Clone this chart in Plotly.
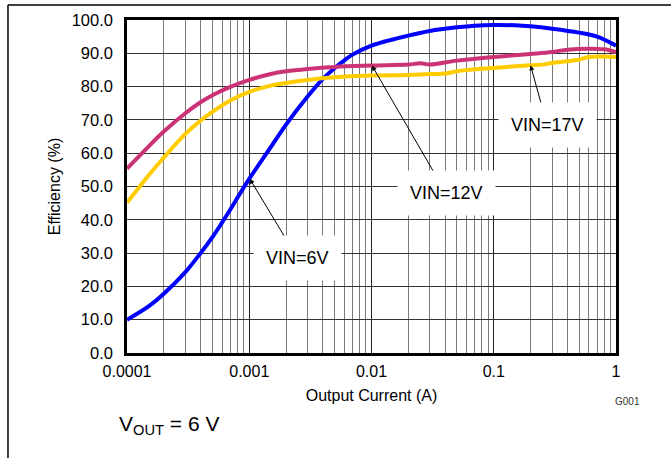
import math
import plotly.graph_objects as go

# Output current (A)
current_6v = [0.0001, 0.00015, 0.0002, 0.0003, 0.0004, 0.0005, 0.0006, 0.0007, 0.0008, 0.001, 0.0015, 0.002,
              0.003, 0.004, 0.005, 0.006, 0.007, 0.01, 0.02, 0.03, 0.05, 0.07, 0.1, 0.15, 0.2, 0.3, 0.5, 0.7, 1.0]
eff_6v = [10.0, 14.0, 17.8, 24.3, 30.0, 34.8, 39.2, 43.1, 46.6, 52.3, 61.8, 68.6,
          77.0, 82.3, 85.6, 87.9, 89.6, 92.3, 95.3, 96.7, 97.8, 98.3, 98.5, 98.4, 98.1, 97.4, 96.2, 95.0, 92.3]

current_12v = [0.0001, 0.00015, 0.0002, 0.0003, 0.0004, 0.0005, 0.0007, 0.001, 0.0015, 0.002, 0.003, 0.005, 0.01,
               0.02, 0.025, 0.03, 0.05, 0.1, 0.2, 0.3, 0.4, 0.6, 0.8, 1.0]
eff_12v = [55.4, 62.0, 66.5, 72.0, 75.3, 77.4, 79.9, 82.0, 83.8, 84.6, 85.3, 85.9, 86.3,
           86.6, 87.0, 86.6, 87.8, 88.9, 89.8, 90.4, 91.1, 91.4, 91.2, 90.4]

current_17v = [0.0001, 0.00015, 0.0002, 0.0003, 0.0004, 0.0005, 0.0007, 0.001, 0.0015, 0.002, 0.003, 0.005, 0.01,
               0.02, 0.03, 0.04, 0.05, 0.1, 0.2, 0.25, 0.3, 0.4, 0.5, 0.6, 1.0]
eff_17v = [45.1, 53.3, 58.7, 65.8, 69.8, 72.4, 75.8, 78.4, 80.3, 81.1, 82.0, 82.8, 83.3,
           83.5, 83.8, 83.9, 84.6, 85.6, 86.4, 86.6, 87.1, 87.6, 88.1, 88.9, 88.9]

x_tick_vals = [0.0001, 0.001, 0.01, 0.1, 1]
x_tick_text = ["0.0001", "0.001", "0.01", "0.1", "1"]
y_tick_vals = [0, 10, 20, 30, 40, 50, 60, 70, 80, 90, 100]

# Callout labels: text, arrow tip (current, eff), label centre (current, eff)
labels = ["VIN=6V", "VIN=12V", "VIN=17V"]
tip_x = [0.00101, 0.0101, 0.2]
tip_y = [52.3, 86.3, 86.4]
text_x = [0.00248, 0.0407, 0.273]
text_y = [28.5, 48.0, 68.5]

FONT = "Arial, Liberation Sans, sans-serif"

fig = go.Figure()
fig.add_trace(go.Scatter(x=current_6v, y=eff_6v, mode="lines", line=dict(color="#0000FF", width=4, shape="spline"),
                         name="VIN=6V"))
fig.add_trace(go.Scatter(x=current_12v, y=eff_12v, mode="lines", line=dict(color="#CC3377", width=4, shape="spline"),
                         name="VIN=12V"))
fig.add_trace(go.Scatter(x=current_17v, y=eff_17v, mode="lines", line=dict(color="#FFCC00", width=4, shape="spline"),
                         name="VIN=17V"))

annotations = []
for i, t in enumerate(labels):
    annotations.append(dict(
        x=math.log10(tip_x[i]), y=tip_y[i], xref="x", yref="y",
        ax=math.log10(text_x[i]), ay=text_y[i], axref="x", ayref="y",
        text=t, showarrow=True, arrowhead=2, arrowsize=1, arrowwidth=1, arrowcolor="black",
        bgcolor="white", borderpad=12,
        font=dict(family=FONT, size=18, color="black")))

annotations.append(dict(x=1.053, y=-0.168, xref="paper", yref="paper", text="G001", showarrow=False,
                        font=dict(family=FONT, size=10, color="#333333")))
annotations.append(dict(x=-0.02, y=-0.216, xref="paper", yref="paper", xanchor="left", yanchor="middle",
                        text="V<sub>OUT</sub> = 6 V", showarrow=False,
                        font=dict(family=FONT, size=21, color="black")))

fig.update_layout(
    width=671, height=458,
    margin=dict(l=127, r=55, t=20, b=105),
    paper_bgcolor="white", plot_bgcolor="white",
    showlegend=False,
    font=dict(family=FONT, color="black"),
    annotations=annotations,
    shapes=[
        dict(type="line", xref="paper", yref="paper", x0=-0.2434, x1=1.2, y0=1.045, y1=1.045,
             line=dict(color="black", width=1.5)),
        dict(type="line", xref="paper", yref="paper", x0=-0.2434, x1=-0.2434, y0=1.045, y1=-0.4,
             line=dict(color="black", width=1.5)),
    ],
)

fig.update_xaxes(
    type="log", range=[-4, 0], automargin=False,
    tickvals=x_tick_vals, ticktext=x_tick_text,
    tickfont=dict(size=16), ticks="", ticklabelstandoff=2,
    showgrid=True, gridcolor="#222222", gridwidth=1,
    minor=dict(dtick="D1", showgrid=True, gridcolor="#7a7a7a", gridwidth=1, ticks=""),
    showline=True, linecolor="black", linewidth=2.5, mirror=True,
    title=dict(text="Output Current (A)", font=dict(size=16), standoff=11),
    zeroline=False,
)
fig.update_yaxes(
    range=[0, 100], tickvals=y_tick_vals, tickformat=".1f", automargin=False,
    tickfont=dict(size=16.5), ticks="", ticklabelstandoff=8,
    showgrid=True, gridcolor="#333333", gridwidth=1,
    showline=True, linecolor="black", linewidth=2.5, mirror=True,
    title=dict(text="Efficiency (%)", font=dict(size=16), standoff=8),
    zeroline=False,
)

fig.write_html("out.html", config={"displayModeBar": False},
               post_script="document.body.style.margin='0px';document.body.style.overflow='hidden';")
